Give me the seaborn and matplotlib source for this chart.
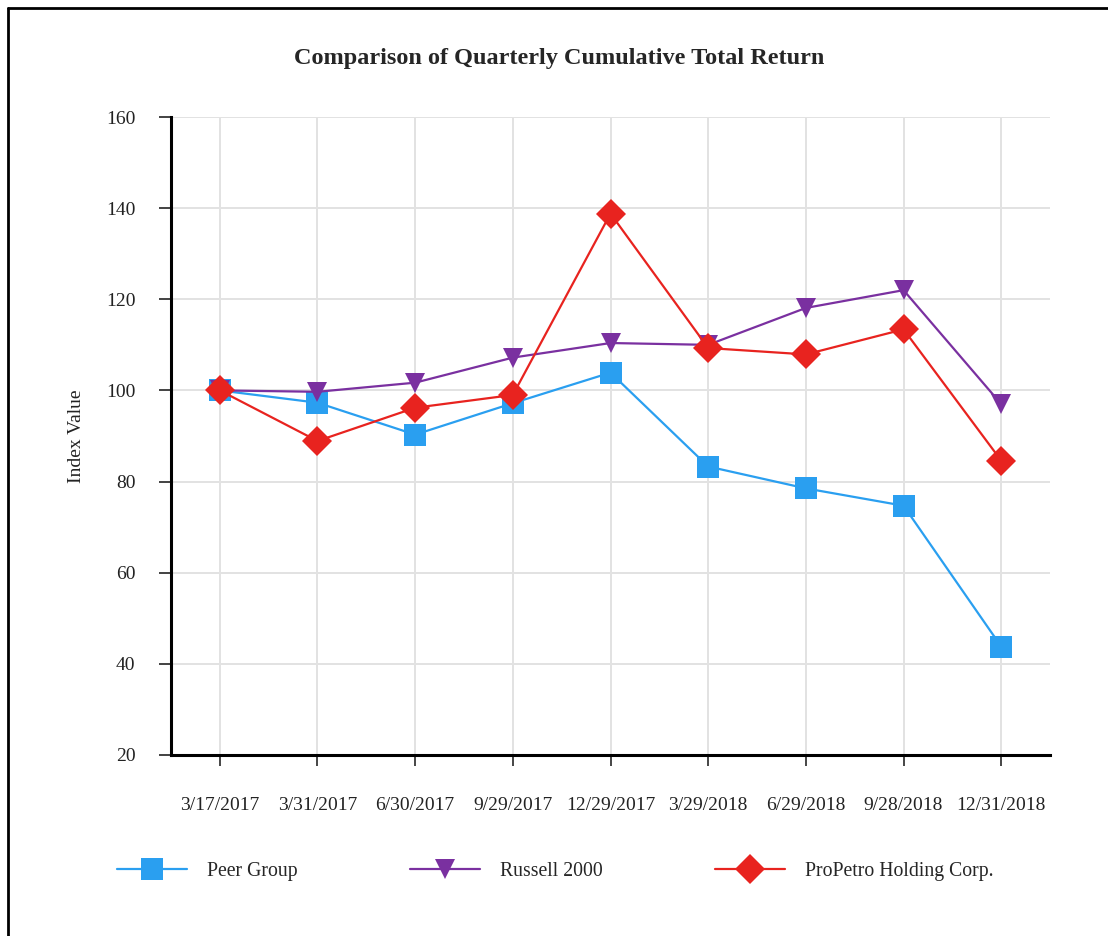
import pandas as pd
import matplotlib
matplotlib.use('Agg')
import matplotlib.pyplot as plt
import seaborn as sns
from matplotlib.lines import Line2D

# Data
dates = ['3/17/2017', '3/31/2017', '6/30/2017', '9/29/2017', '12/29/2017',
         '3/29/2018', '6/29/2018', '9/28/2018', '12/31/2018']
peer_group = [100, 97.3, 90.3, 97.2, 103.9, 83.3, 78.5, 74.7, 43.8]
russell_2000 = [100, 99.7, 101.7, 107.2, 110.4, 110.0, 118.1, 122.0, 97.0]
propetro = [100, 88.9, 96.2, 99.0, 138.8, 109.3, 107.9, 113.4, 84.6]
series_names = ['Peer Group', 'Russell 2000', 'ProPetro Holding Corp.']

rows = []
for name, vals in zip(series_names, [peer_group, russell_2000, propetro]):
    for i, v in enumerate(vals):
        rows.append({'pos': i, 'value': v, 'series': name})
df = pd.DataFrame(rows)

colors = {'Peer Group': '#2a9ff0', 'Russell 2000': '#7a30a0', 'ProPetro Holding Corp.': '#e8231f'}
markers = {'Peer Group': 's', 'Russell 2000': 'v', 'ProPetro Holding Corp.': 'D'}
msizes = {'Peer Group': 16, 'Russell 2000': 15, 'ProPetro Holding Corp.': 15}

sns.set_style('white')
plt.rcParams['font.family'] = ['Liberation Serif', 'DejaVu Serif']

fig = plt.figure(figsize=(11.08, 9.36), dpi=100)
ax = fig.add_axes([0.1543, 0.1934, 0.7934, 0.6816])

sns.lineplot(data=df, x='pos', y='value', hue='series', style='series',
             palette=colors, markers=markers, dashes=False, linewidth=1.6,
             markersize=15, markeredgewidth=0, legend=False, ax=ax, zorder=3)
# square markers slightly larger
for line, name in zip(ax.get_lines(), series_names):
    line.set_markersize(msizes[name])

ax.set_xlim(-0.5, 8.5)
ax.set_ylim(20, 160)
ax.set_xticks(range(len(dates)))
ax.set_xticklabels(dates, fontsize=14, color='#222222')
ax.set_yticks(range(20, 161, 20))
ax.tick_params(axis='y', labelsize=14, colors='#222222', length=9, width=1.2, direction='out', left=True, pad=16.5)
ax.tick_params(axis='x', length=8, width=1.2, direction='out', bottom=True, pad=22)
for t in ax.get_yticklines():
    t.set_color('#888888')
ax.grid(True, color='#e2e2e2', linewidth=1.4)
ax.set_axisbelow(True)
ax.set_xlabel('')
ax.set_ylabel('Index Value', fontsize=14, labelpad=15, color='#222222')

for s in ['top', 'right']:
    ax.spines[s].set_visible(False)
ax.spines['left'].set_color('black')
ax.spines['left'].set_linewidth(2.2)
ax.spines['bottom'].set_color('black')
ax.spines['bottom'].set_linewidth(2.2)

fig.text(0.505, 0.938, 'Comparison of Quarterly Cumulative Total Return',
         ha='center', va='center', fontsize=17.5, fontweight='bold')

handles = [Line2D([], [], color=colors[n], marker=markers[n], markersize=msizes[n],
                  markeredgewidth=0, linewidth=1.6) for n in series_names]
fig.legend(handles, series_names, loc='center left', bbox_to_anchor=(0.09, 0.069),
           ncol=3, frameon=False, fontsize=14.2, handlelength=3.55, handletextpad=1.0,
           columnspacing=5.7)

# figure frame on left and top
fig.add_artist(Line2D([0.0075, 0.0075], [0, 0.9915], transform=fig.transFigure, color='black', linewidth=2))
fig.add_artist(Line2D([0.0075, 1.0], [0.9915, 0.9915], transform=fig.transFigure, color='black', linewidth=2))

fig.savefig('out.png', dpi=100, facecolor='white')
